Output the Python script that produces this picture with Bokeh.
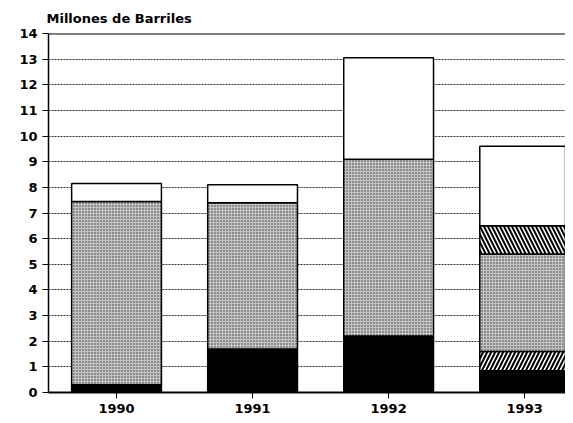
from bokeh.plotting import figure
from bokeh.models import Range1d, FixedTicker, Span, ColumnDataSource
from bokeh.embed import file_html
from bokeh.resources import INLINE

years = ["1990", "1991", "1992", "1993"]
black_seg = [0.3, 1.7, 2.2, 0.85]
diag_seg = [0.0, 0.0, 0.0, 0.75]
dotted_seg = [7.15, 5.7, 6.9, 3.8]
back_seg = [0.0, 0.0, 0.0, 1.1]
white_seg = [0.7, 0.7, 3.95, 3.1]
y_ticks = list(range(0, 15))

xs = list(range(len(years)))

p = figure(width=565, height=415, output_backend="svg", toolbar_location=None,
           x_range=Range1d(-0.5, 3.3), y_range=Range1d(0, 14),
           title="Millones de Barriles", min_border_left=48, min_border_right=0,
           min_border_top=10)
p.title.text_font = "DejaVu Sans"
p.title.text_font_style = "bold"
p.title.text_font_size = "13px"
p.title.text_color = "black"
p.title.align = "left"
p.title.offset = -2
p.title.standoff = 16

p.outline_line_color = None
p.xgrid.grid_line_color = None
p.ygrid.grid_line_color = "black"
p.ygrid.grid_line_dash = "2 1"
p.ygrid.grid_line_width = 1
p.ygrid.grid_line_alpha = 0.8
p.yaxis.ticker = FixedTicker(ticks=y_ticks)
p.xaxis.ticker = FixedTicker(ticks=xs)
p.xaxis.major_label_overrides = {i: y for i, y in enumerate(years)}
for ax in (p.xaxis, p.yaxis):
    ax.major_label_text_font = "DejaVu Sans"
    ax.major_label_text_font_style = "bold"
    ax.major_label_text_font_size = "13px"
    ax.minor_tick_line_color = None
    ax.major_tick_in = 0
    ax.major_tick_out = 6
    ax.axis_line_width = 1.5
    ax.major_label_text_color = "black"
p.xaxis.axis_line_width = 2

bottoms = [0.0] * 4
segs = [
    (black_seg, dict(fill_color="black")),
    (diag_seg, dict(fill_color="white", hatch_pattern="/", hatch_color="black", hatch_scale=8, hatch_weight=2)),
    (dotted_seg, dict(fill_color="#c4c4c4", hatch_pattern=".", hatch_color="#333333", hatch_scale=3, hatch_weight=1)),
    (back_seg, dict(fill_color="white", hatch_pattern="\\", hatch_color="black", hatch_scale=8, hatch_weight=2)),
    (white_seg, dict(fill_color="white")),
]
for vals, style in segs:
    tops = [b + v for b, v in zip(bottoms, vals)]
    keep = [i for i, v in enumerate(vals) if v > 0]
    src = ColumnDataSource(dict(x=[xs[i] for i in keep], bottom=[bottoms[i] for i in keep],
                                top=[tops[i] for i in keep]))
    p.vbar(x="x", bottom="bottom", top="top", width=0.66, source=src,
           line_color="black", line_width=1.5, **style)
    bottoms = tops

p.add_layout(Span(location=14, dimension="width", line_color="black", line_width=2))

open("out.html", "w").write(file_html(p, INLINE))
